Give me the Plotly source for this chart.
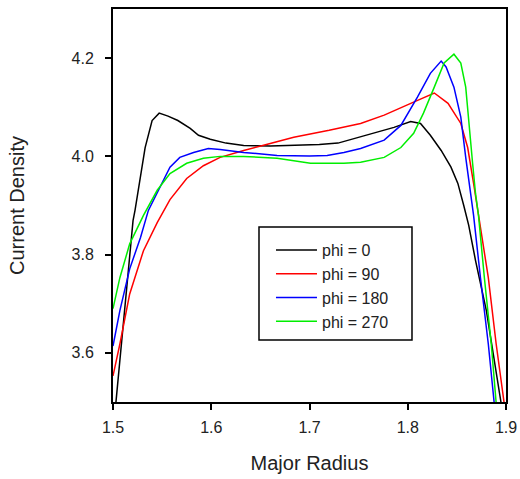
import plotly.graph_objects as go

# phi = 0 (black)
x_phi0 = [1.501, 1.503, 1.5204, 1.5224, 1.5327, 1.5398, 1.547, 1.556, 1.566, 1.5786, 1.587, 1.599,
          1.615, 1.633, 1.66, 1.684, 1.71, 1.729, 1.742, 1.752, 1.77, 1.786, 1.803, 1.813, 1.823,
          1.834, 1.844, 1.851, 1.857, 1.862, 1.869, 1.880, 1.895, 1.897]
y_phi0 = [3.47, 3.50, 3.869, 3.890, 4.018, 4.073, 4.088, 4.082, 4.073, 4.057, 4.043, 4.035,
          4.027, 4.022, 4.021, 4.022, 4.024, 4.027, 4.034, 4.040, 4.050, 4.059, 4.071, 4.067, 4.043,
          4.012, 3.978, 3.945, 3.900, 3.860, 3.788, 3.686, 3.498, 3.47]

# phi = 90 (red)
x_phi90 = [1.500, 1.507, 1.517, 1.531, 1.545, 1.558, 1.575, 1.592, 1.609, 1.633, 1.66,
           1.684, 1.72, 1.752, 1.776, 1.795, 1.810, 1.827, 1.841, 1.854, 1.861, 1.867, 1.872,
           1.882, 1.890, 1.898, 1.900]
y_phi90 = [3.553, 3.618, 3.720, 3.808, 3.865, 3.912, 3.955, 3.981, 3.998, 4.012, 4.026,
           4.039, 4.053, 4.067, 4.084, 4.100, 4.114, 4.129, 4.108, 4.067, 4.018, 3.945, 3.880,
           3.753, 3.618, 3.498, 3.47]

# phi = 180 (blue)
x_phi180 = [1.500, 1.507, 1.517, 1.528, 1.536, 1.548, 1.558, 1.568, 1.582, 1.597, 1.609, 1.633,
            1.667, 1.700, 1.718, 1.735, 1.752, 1.776, 1.793, 1.810, 1.823, 1.834, 1.839, 1.847,
            1.854, 1.859, 1.864, 1.867, 1.874, 1.882, 1.888, 1.890]
y_phi180 = [3.614, 3.686, 3.771, 3.835, 3.890, 3.937, 3.978, 3.998, 4.008, 4.016, 4.014, 4.008,
            4.002, 4.001, 4.002, 4.008, 4.016, 4.033, 4.063, 4.121, 4.169, 4.194, 4.182, 4.141,
            4.080, 3.998, 3.924, 3.880, 3.753, 3.618, 3.498, 3.47]

# phi = 270 (green)
x_phi270 = [1.500, 1.507, 1.517, 1.531, 1.545, 1.558, 1.575, 1.592, 1.609, 1.633, 1.667, 1.701,
            1.735, 1.752, 1.776, 1.793, 1.806, 1.816, 1.827, 1.837, 1.847, 1.854, 1.859, 1.862,
            1.866, 1.869, 1.872, 1.878, 1.885, 1.890, 1.892]
y_phi270 = [3.690, 3.753, 3.822, 3.880, 3.931, 3.965, 3.986, 3.996, 4.000, 4.000, 3.996, 3.986,
            3.986, 3.988, 3.998, 4.018, 4.047, 4.088, 4.141, 4.190, 4.208, 4.190, 4.141, 4.067,
            3.986, 3.924, 3.880, 3.753, 3.618, 3.498, 3.47]

series_names = ["phi = 0", "phi = 90", "phi = 180", "phi = 270"]
series_colors = ["#000000", "#ff0000", "#0000ff", "#00ee00"]
series_x = [x_phi0, x_phi90, x_phi180, x_phi270]
series_y = [y_phi0, y_phi90, y_phi180, y_phi270]

x_ticks = [1.5, 1.6, 1.7, 1.8, 1.9]
y_ticks = [3.6, 3.8, 4.0, 4.2]

FONT = "Arial, Liberation Sans, sans-serif"

fig = go.Figure()
for name, color, xs, ys in zip(series_names, series_colors, series_x, series_y):
    fig.add_trace(go.Scatter(x=xs, y=ys, mode="lines", name=name,
                             line=dict(color=color, width=1.5)))

axis_common = dict(showline=True, linecolor="black", linewidth=2, mirror=True,
                   ticks="outside", ticklen=6, tickwidth=1.5, tickcolor="black",
                   showgrid=False, zeroline=False,
                   tickfont=dict(family=FONT, size=16, color="#222"))

fig.update_xaxes(range=[1.5, 1.9], tickvals=x_ticks, ticktext=[f"{v:.1f}" for v in x_ticks],
                 title=dict(text="Major Radius", font=dict(family=FONT, size=20, color="#222"), standoff=21),
                 ticklabelstandoff=4, **axis_common)
fig.update_yaxes(range=[3.5, 4.3], tickvals=y_ticks, ticktext=[f"{v:.1f}" for v in y_ticks],
                 title=dict(text="Current Density", font=dict(family=FONT, size=20, color="#222"), standoff=42),
                 ticklabelstandoff=8, **axis_common)

# legend frame (drawn as a box behind the legend entries)
fig.add_shape(type="rect", xref="paper", yref="paper",
              x0=0.3715, x1=0.7608, y0=0.1578, y1=0.4453,
              line=dict(color="black", width=1.5), fillcolor="white")

fig.update_layout(
    width=520, height=479,
    margin=dict(l=113, r=14, t=9, b=77, autoexpand=False),
    plot_bgcolor="white", paper_bgcolor="white",
    showlegend=True,
    legend=dict(x=0.402, y=0.430, xanchor="left", yanchor="top",
                bgcolor="rgba(0,0,0,0)", borderwidth=0, itemwidth=41,
                font=dict(family=FONT, size=16, color="#222")),
)

fig.write_html("out.html")
